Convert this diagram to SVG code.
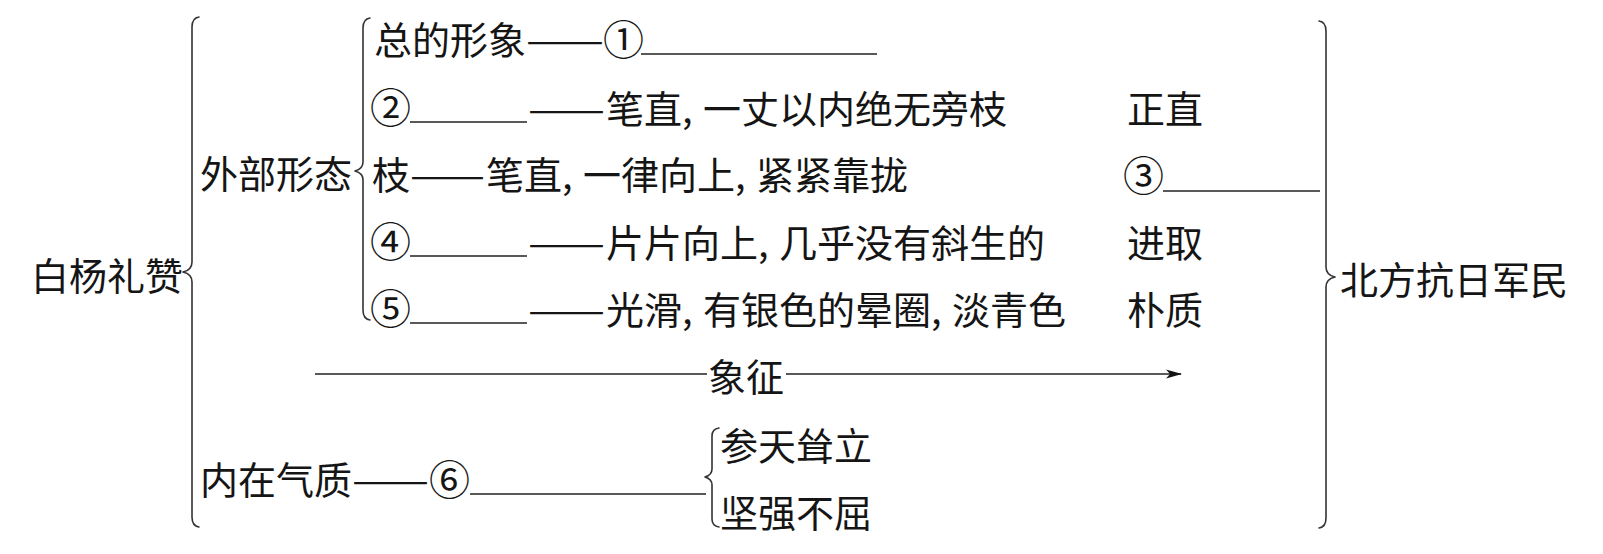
<svg xmlns="http://www.w3.org/2000/svg" width="1603" height="554" viewBox="0 0 1603 554">
<style>
text{font-family:"Noto Sans CJK SC","Noto Sans CJK TC",sans-serif;font-size:38px;fill:#151515;dominant-baseline:central}
.cn{font-size:41px}
.ln{stroke:#222;stroke-width:1.6;fill:none}
.br{stroke:#333;stroke-width:1.6;fill:none;stroke-linecap:round;stroke-linejoin:round}
</style>
<defs>
<marker id="ah" markerWidth="16" markerHeight="10" refX="15" refY="5" orient="auto" markerUnits="userSpaceOnUse">
<path d="M0,0.5 L16,5 L0,9.5 L4,5 Z" fill="#151515"/>
</marker>
</defs>
<rect width="1603" height="554" fill="#fff"/>

<g id="connectors">
<path class="br" d="M199,17 Q192,18 192,27 L192,262 Q192,270 183,272 Q192,274 192,282 L192,517 Q192,526 199,527"/>
<path class="br" d="M370,18 Q363,19 363,28 L363,162 Q363,169 355,171 Q363,173 363,180 L363,310 Q363,319 370,320"/>
<path class="br" d="M1319,21 Q1326,22 1326,31 L1326,267 Q1326,275 1335,277 Q1326,279 1326,287 L1326,518 Q1326,527 1319,528"/>
<path class="br" d="M719,428 Q712,429 712,436 L712,469 Q712,475 705,477 Q712,479 712,485 L712,519 Q712,526 719,527"/>
<line class="ln" x1="641" y1="54" x2="877" y2="54"/>
<line class="ln" x1="410" y1="122" x2="527" y2="122"/>
<line class="ln" x1="410" y1="256" x2="527" y2="256"/>
<line class="ln" x1="410" y1="323" x2="527" y2="323"/>
<line class="ln" x1="1163" y1="191" x2="1320" y2="191"/>
<line class="ln" x1="470" y1="494" x2="706" y2="494"/>
<line class="ln" x1="315" y1="374" x2="707" y2="374"/>
<line class="ln" x1="786" y1="374" x2="1181" y2="374" marker-end="url(#ah)"/>
</g>

<g id="root"><text x="31" y="273">白杨礼赞</text></g>
<g id="outer"><text x="200" y="171">外部形态</text></g>
<g id="inner"><text x="200" y="477">内在气质</text><text x="352" y="477" textLength="77" lengthAdjust="spacingAndGlyphs">——</text><text class="cn" x="429" y="477">⑥</text></g>

<g id="row1"><text x="374" y="37">总的形象</text><text x="526" y="37" textLength="78" lengthAdjust="spacingAndGlyphs">——</text><text class="cn" x="603" y="37">①</text></g>
<g id="row2"><text class="cn" x="370" y="105">②</text><text x="528" y="106" textLength="77" lengthAdjust="spacingAndGlyphs">——</text><text x="606" y="106">笔直,<tspan x="703">一丈以内绝无旁枝</tspan></text></g>
<g id="row3"><text x="372" y="172">枝</text><text x="410" y="172" textLength="75" lengthAdjust="spacingAndGlyphs">——</text><text x="486" y="172">笔直,<tspan x="583">一律向上,</tspan><tspan x="756">紧紧靠拢</tspan></text></g>
<g id="row4"><text class="cn" x="370" y="239">④</text><text x="528" y="240" textLength="77" lengthAdjust="spacingAndGlyphs">——</text><text x="606" y="240">片片向上,<tspan x="779">几乎没有斜生的</tspan></text></g>
<g id="row5"><text class="cn" x="370" y="306">⑤</text><text x="528" y="307" textLength="77" lengthAdjust="spacingAndGlyphs">——</text><text x="606" y="307">光滑,<tspan x="703">有银色的晕圈,</tspan><tspan x="952">淡青色</tspan></text></g>

<g id="q1"><text x="1127" y="106">正直</text></g>
<g id="q2"><text class="cn" x="1123" y="173">③</text></g>
<g id="q3"><text x="1127" y="240">进取</text></g>
<g id="q4"><text x="1127" y="307">朴质</text></g>

<g id="symbol"><text x="708" y="374">象征</text></g>
<g id="target"><text x="1340" y="277">北方抗日军民</text></g>
<g id="traits"><text x="720" y="443">参天耸立</text><text x="720" y="510">坚强不屈</text></g>
</svg>
